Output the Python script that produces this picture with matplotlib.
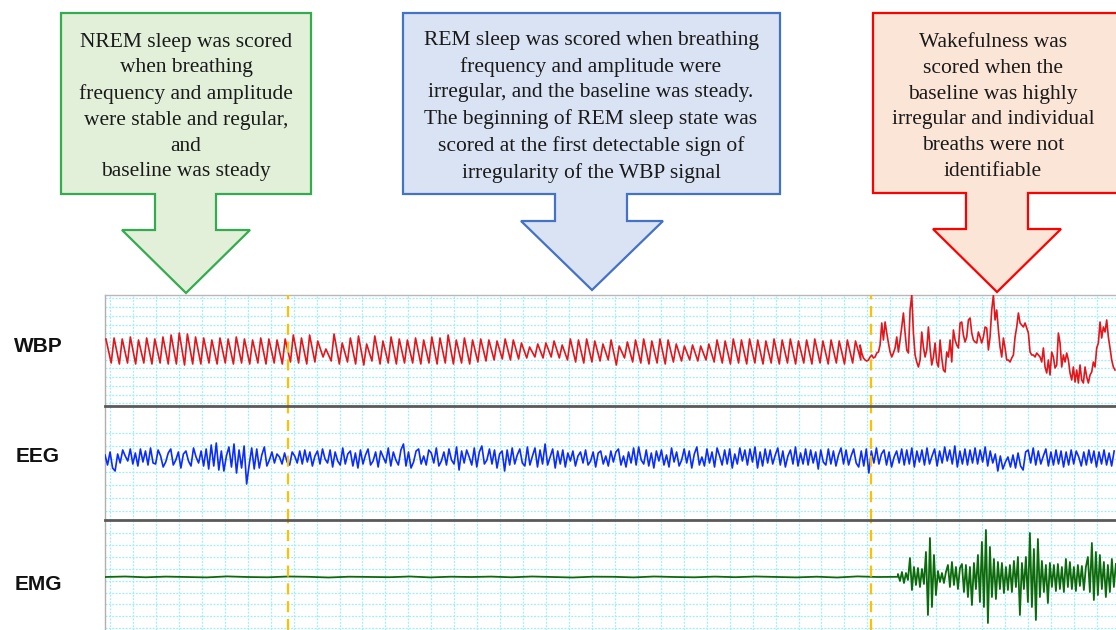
import numpy as np
import matplotlib.pyplot as plt
from matplotlib.patches import Polygon

# --- recording (x in seconds, y in px-like units) ---
window_s = 44.05
stage_changes_s = [7.97, 33.38]          # NREM -> REM, REM -> wake

# WBP during sleep: one peak and one trough per breath
breath_period_s = 0.355
first_breath_s = 0.04
wbp_peaks = [13, 14, 13, 15, 12, 14, 13, 15, 17, 19, 18, 15, 14, 12, 14, 13, 15, 13, 12, 14,
             13, 12, 13, 17, 14, 17, 11, 3, 18, 9, 14, 16, 8, 16, 11, 15, 13, 12, 14, 12,
             15, 14, 17, 12, 14, 12, 13, 12, 11, 13, 12, 9, 5, 8, 9, 11, 7, 13, 12, 13,
             11, 8, 12, 6, 10, 12, 13, 11, 13, 12, 8, 6, 7, 6, 8, 12, 11, 13, 12, 13,
             12, 11, 13, 12, 13, 11, 12, 13, 11, 12, 11, 12, 11]
wbp_troughs = [-11, -12, -11, -12, -11, -12, -11, -12, -12, -13, -12, -12, -11, -12, -11, -12, -11, -12, -11, -12,
               -11, -12, -10, -11, -12, -10, -5, -9, -12, -10, -12, -13, -9, -12, -11, -12, -11, -11, -12, -11,
               -12, -11, -12, -11, -12, -10, -9, -8, -7, -8, -7, -6, -5, -6, -5, -6, -8, -10, -11, -10,
               -9, -8, -13, -6, -10, -11, -12, -11, -12, -10, -9, -8, -9, -8, -10, -11, -12, -11, -12, -11,
               -12, -11, -12, -11, -12, -11, -12, -11, -12, -11, -12, -11, -8]

# WBP while awake, sampled densely
wbp_wake_start_s = 32.9
wbp_wake_dt = 0.0726
wbp_wake = [7, -1, -6, -8, -9, -8, -5, -3, -6, -5, -1, 0, 7, 29, 12, 30, 19, 9, 0, -5,
            -1, 4, 15, 0, 12, 25, 39, 19, 2, -1, 42, 57, 19, -3, -10, -15, -8, 20, 5, -5,
            2, 25, 4, -13, -5, 9, -10, -15, 12, -6, -18, -20, 0, -5, 12, -10, 22, 12, 7, 4,
            29, 30, 17, 10, 15, 32, 34, 19, 12, 10, 9, 20, 15, 9, 15, 25, 24, 2, 15, 42,
            57, 32, 42, 22, 5, -5, 14, 4, -8, -8, -10, -6, -3, 15, 25, 39, 29, 27, 25, 29,
            24, 19, 0, -3, -3, -5, -1, -3, -5, -10, 4, -15, -21, -8, -23, 0, -5, -16, -13, 19,
            9, -15, -3, -10, -1, -8, -21, -28, -15, -30, -18, -31, -13, -28, -31, -15, -25, -31, -23, -20,
            -10, -15, 4, 9, 30, 14, 25, 20, 32, 15, 4, -8, -15, -18]

# EEG
eeg_dt = 0.1102
eeg = [3, -7, 6, -10, -13, 4, -5, 8, 2, -3, 9, -6, 5, -8, 9, -4, 7, -7, 10, -5,
       -6, 8, 2, -9, -4, 5, 9, -7, -2, 6, -10, 4, 7, -3, -8, 10, 1, -5, 7, -8,
       9, -11, 13, -8, 15, -12, 7, -13, 2, 11, -9, 14, -15, 8, -10, 12, -26, -7, 10, -11,
       9, -10, 3, 11, -8, -2, 6, -5, 4, 1, -6, 5, -4, -7, 6, 2, -5, 7, -6, 8,
       -4, 6, -8, 2, 7, -6, 9, -1, -5, 8, -9, 6, -3, -7, 10, -6, 4, 7, -8, 5,
       -10, 8, -6, 3, 9, -7, -3, 6, -9, 7, 1, -5, 10, -8, 6, -2, -7, 8, 14, -8,
       6, -10, -4, 7, 9, -6, 2, -7, 8, 5, -5, 10, -8, -3, 6, -7, 9, -2, -6, 11,
       -12, 7, -5, 8, 1, -7, 10, -9, 6, 12, -6, -2, 9, -6, 8, -10, 4, 7, -13, 8,
       -7, 10, -6, 3, 9, -5, -8, 11, -7, 2, 10, -9, 8, -6, 14, -7, 1, 9, -10, 7,
       -6, 8, -9, 5, -3, 7, -8, 2, 6, -5, 8, -7, -3, 6, -9, 5, 7, -6, 2, -8,
       7, -4, 6, 9, -7, 2, -9, 6, -5, 10, -7, 11, -2, -6, 8, -8, 5, -10, 7, -3,
       8, -7, 3, -9, 10, -4, 6, -8, -2, 9, -5, 7, -10, 4, 11, -7, 1, -8, 9, -5,
       6, -9, 10, 2, -7, 8, -6, 9, -10, 4, -6, 10, -3, 8, -7, 9, -4, 11, -10, 6,
       -8, 9, -5, 8, -6, 3, 10, -7, 7, -9, 2, 8, -6, 11, -8, 5, -6, 9, -7, 8,
       -5, 6, -11, 8, -4, -7, 9, -6, 7, -8, 3, 10, -6, 8, -7, 2, 9, -5, -9, 7,
       -8, 9, -15, 7, -5, 10, -6, 4, 8, -7, 6, -9, 1, 7, -5, 9, -7, 8, -6, 10,
       -9, 7, -4, 8, -7, 10, -6, 2, 9, -8, 7, -5, 11, -3, 8, -6, 12, -9, 7, -6,
       9, -7, 8, -5, 10, -6, 8, -4, 11, -8, 7, -5, 4, -13, 2, -11, -4, 1, -9, 3,
       -10, 5, -8, -12, 6, 8, -5, 10, -7, 7, -6, 2, 9, -8, 6, -7, 8, -6, 7, -9,
       6, -7, 8, -6, 7, 1, -8, 6, -7, 8, -5, 7, -9, 6, -6, 8, -7, 5, -8, 7]

# EMG: quiet during sleep, bursts when awake
emg_quiet_dt = 0.886
emg_quiet = [0, 0.5, -0.3, 0.4, 0, -0.4, 0.6, 0, -0.3, 0.5, 0.2, -0.5, 0.3, 0, -0.2, 0.5, -0.4, 0.3, 0, 0.4,
             -0.3, 0.5, 0, -0.5, 0.3, 0.2, -0.4, 0.5, 0, -0.3, 0.4, -0.2, 0.5, 0, -0.4, 0.3, -0.5, 0.6, 0, 0.2]
emg_wake_start_s = 34.55
emg_wake_dt = 0.0871
emg_wake = [3, -4, 5, -6, 4, -3, 19, -13, 10, -8, 9, -10, 8, -7, 25, -38, 39, -30, 22, -18,
            6, -5, 4, -6, 5, 12, -10, 15, -8, 10, -12, 9, 13, -15, 12, -20, 10, -28, 14, -12,
            22, -25, 35, -30, 47, -46, 30, -20, 18, -22, 15, -12, 14, -16, 10, -13, 12, -15, 16, -10,
            20, -38, 14, -12, 20, -25, 44, -30, 28, -43, 38, -20, 16, -15, 12, -26, 14, -10, 12, -14,
            13, -12, 10, -15, 18, -10, 15, -12, 10, -14, 12, -9, 11, -13, 10, 20, -15, 34, -23, 25,
            -18, 22, -12, 15, -20, 12, -15, 18, -10, 13]

labels = ["WBP", "EEG", "EMG"]
notes = [
    "NREM sleep was scored\nwhen breathing\nfrequency and amplitude\nwere stable and regular,\nand\nbaseline was steady",
    "REM sleep was scored when breathing\nfrequency and amplitude were\nirregular, and the baseline was steady.\n"
    "The beginning of REM sleep state was\nscored at the first detectable sign of\nirregularity of the WBP signal",
    "Wakefulness was\nscored when the\nbaseline was highly\nirregular and individual\nbreaths were not\nidentifiable",
]

# --- build time bases ---
n = len(wbp_peaks)
t_peak = first_breath_s + breath_period_s * np.arange(n)
t_sleep = np.empty(2 * n)
t_sleep[0::2] = t_peak
t_sleep[1::2] = t_peak + 0.65 * breath_period_s
y_sleep = np.empty(2 * n)
y_sleep[0::2] = wbp_peaks
y_sleep[1::2] = wbp_troughs
t_wake = wbp_wake_start_s + wbp_wake_dt * np.arange(len(wbp_wake))
wbp_t = np.concatenate([t_sleep, t_wake])
wbp_y = np.concatenate([y_sleep, wbp_wake])

eeg_t = eeg_dt * np.arange(len(eeg))
emg_t = np.concatenate([emg_quiet_dt * np.arange(len(emg_quiet)),
                        emg_wake_start_s + emg_wake_dt * np.arange(len(emg_wake))])
emg_y = np.concatenate([emg_quiet, emg_wake])

# --- figure ---
W, H = 1116, 630
fig = plt.figure(figsize=(W / 100, H / 100), dpi=100)
left = 105 / W

def px_axes(top, bottom):
    return fig.add_axes([left, (H - bottom) / H, 1 - left, (bottom - top) / H])

ax_wbp = px_axes(295, 405.5)
ax_eeg = px_axes(405.5, 520)
ax_emg = px_axes(520, 630)

grid_col = "#9feef8"
panels = [
    (ax_wbp, wbp_t, wbp_y, "#e3161c", 1.2, (-53.5, 57), 53.7, 8.75),
    (ax_eeg, eeg_t, eeg, "#0a2cff", 1.2, (-62, 52.5), 24.7, 13.0),
    (ax_emg, emg_t, emg_y, "#0b6a0b", 1.3, (-53, 57), 44, 11.9),
]
for i, (ax, t, y, col, lw, ylim, gtop, gstep) in enumerate(panels):
    ax.plot(t, y, color=col, lw=lw, zorder=3)
    ax.set_xlim(0, window_s)
    ax.set_ylim(*ylim)
    ax.set_xticks(np.arange(0.218, window_s, 1.0))
    ax.set_yticks(np.arange(gtop, ylim[0], -gstep))
    ax.grid(True, color=grid_col, lw=0.9, ls=(0, (1.5, 1.2)))
    ax.tick_params(length=0, labelbottom=False, labelleft=False)
    for s in ["right", "bottom"]:
        ax.spines[s].set_visible(False)
    ax.spines["left"].set_color("#b0b0b0")
    ax.spines["left"].set_linewidth(1)
    if i == 0:
        ax.spines["top"].set_color("#b8b8b8")
        ax.spines["top"].set_linewidth(1)
    else:
        ax.spines["top"].set_color("#5a5a5a")
        ax.spines["top"].set_linewidth(2)
        ax.spines["top"].set_zorder(5)
    for sc in stage_changes_s:
        ax.axvline(sc, color="#ffc000", lw=1.6, ls=(0, (5, 3)), zorder=4)

# --- overlay in pixel coords for callouts and labels ---
ov = fig.add_axes([0, 0, 1, 1], zorder=10)
ov.set_xlim(0, W)
ov.set_ylim(H, 0)
ov.axis("off")

label_y = [347, 457, 584]
for lab, yy in zip(labels, label_y):
    ov.text(38, yy, lab, ha="center", va="center", fontsize=15,
            fontweight="bold", family="Liberation Sans", color="#111111")

callouts = [
    # L, R, T, B, shaft L, shaft R, head y, head L, head R, tip x, tip y, face, edge
    (61, 311, 13, 194, 155, 216, 230, 122, 250, 186, 293, "#e2f0d9", "#33ab4e"),
    (403, 780, 13, 194, 555, 627, 221, 521, 663, 592, 290, "#dae3f3", "#4472c4"),
    (873, 1125, 13, 193, 966, 1028, 229, 933, 1061, 997, 292, "#fbe5d6", "#ff0000"),
]
text_cx = [186, 591, 993]
for (L, R, T, B, sL, sR, hy, hL, hR, tx, ty, fc, ec), note, cx in zip(callouts, notes, text_cx):
    pts = [(L, T), (R, T), (R, B), (sR, B), (sR, hy), (hR, hy), (tx, ty),
           (hL, hy), (sL, hy), (sL, B), (L, B)]
    ov.add_patch(Polygon(pts, closed=True, facecolor=fc, edgecolor=ec, lw=1.6,
                         joinstyle="miter"))
    ov.text(cx, 107, note, ha="center", va="center", fontsize=15.5,
            family="Liberation Serif", color="#1a1a1a", linespacing=1.48)

fig.savefig("out.png", dpi=100)
